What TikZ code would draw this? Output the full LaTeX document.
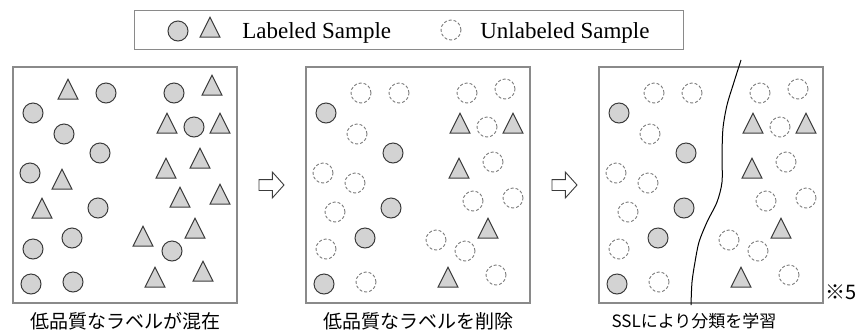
\documentclass[tikz,border=0pt]{standalone}
\usepackage{fontspec}
\setmainfont{Liberation Serif}
\newfontfamily\jpfont{Noto Sans CJK JP}
\usepackage{tikz}
\usetikzlibrary{positioning,shapes.geometric,shapes.arrows}

\definecolor{samplefill}{HTML}{D3D3D3}
\definecolor{sampleline}{HTML}{3C3C3C}
\definecolor{dashline}{HTML}{7A7A7A}
\definecolor{boxline}{HTML}{8A8A8A}

% sample positions inside a panel (from its top left corner)
\newcommand\keptcircles{20/46, 87/86, 85/141, 59/171, 18/217}
\newcommand\droppedcircles{93/26, 161/26, 51/67, 181/60, 17/106, 20/182, 159/184, 60/215}
\newcommand\kepttris{154/60, 207/60, 153/105, 182/165, 142/214}
\newcommand\droppedtris{55/26, 199/22, 187/95, 49/116, 29/145, 167/134, 207/131, 130/173, 190/208}

\begin{document}
\begin{tikzpicture}[x=1pt,y=-1pt,node distance=22pt,semithick]
  \tikzstyle{panel}=[draw=boxline,line width=1.1pt,minimum width=224pt,
                     minimum height=236pt,inner sep=0pt,outer sep=0pt]
  \tikzstyle{labcirc}=[circle,draw=sampleline,fill=samplefill,line width=1pt,
                       minimum size=20pt,inner sep=0pt]
  \tikzstyle{labtri}=[isosceles triangle,isosceles triangle stretches,
                      shape border rotate=90,draw=sampleline,fill=samplefill,
                      line width=1pt,minimum width=20pt,minimum height=20pt,
                      inner sep=0pt]
  \tikzstyle{unlab}=[circle,draw=dashline,dash pattern=on 3pt off 2pt,
                     line width=0.9pt,minimum size=20pt,inner sep=0pt]
  \tikzstyle{stage}=[single arrow,draw=sampleline,fill=white,line width=0.9pt,
                     minimum height=25pt,inner sep=5pt,outer sep=0pt,
                     single arrow head extend=7.5pt,single arrow tip angle=96]
  \tikzstyle{keytext}=[font=\fontsize{23}{23}\selectfont,inner sep=0pt]
  \tikzstyle{caption}=[font=\jpfont\fontsize{19}{19}\selectfont,inner sep=0pt]

  \useasboundingbox (0,0) rectangle (856,333);

  % legend
  \node[draw=boxline,line width=1pt,minimum width=549pt,minimum height=39pt,
        inner sep=0pt] (legend) at (408.5,29.5) {};
  \node[labcirc] (key-c) at (178,31) {};
  \node[labtri,right=14pt of key-c] (key-t) {};
  \node[keytext,anchor=base west] (key-lab) at (242,38.5) {Labeled Sample};
  \node[unlab] (key-u) at (451,30) {};
  \node[keytext,anchor=base west] (key-unlab) at (480,38.5) {Unlabeled Sample};

  % the three stages
  \node[panel]               (p1) at (125,185) {};
  \node[stage,right=of p1]   (arr1) {};
  \node[panel,right=of arr1] (p2) {};
  \node[stage,right=of p2]   (arr2) {};
  \node[panel,right=of arr2] (p3) {};

  % all samples labelled
  \begin{scope}[shift={(p1.north west)}]
    \foreach \x/\y [count=\i] in \keptcircles
      \node[labcirc] (a-kc\i) at (\x,\y) {};
    \foreach \x/\y [count=\i] in \droppedcircles
      \node[labcirc] (a-dc\i) at (\x,\y) {};
    \foreach \x/\y [count=\i] in \kepttris
      \node[labtri] (a-kt\i) at (\x,\y) {};
    \foreach \x/\y [count=\i] in \droppedtris
      \node[labtri] (a-dt\i) at (\x,\y) {};
  \end{scope}

  % low quality labels removed (same in both later panels)
  \foreach \p in {p2,p3} {
    \begin{scope}[shift={(\p.north west)}]
      \foreach \x/\y [count=\i] in \keptcircles
        \node[labcirc] (\p-kc\i) at (\x,\y) {};
      \foreach \x/\y [count=\i] in \kepttris
        \node[labtri] (\p-kt\i) at (\x,\y) {};
      \foreach \x/\y [count=\i] in \droppedcircles
        \node[unlab] (\p-uc\i) at (\x,\y) {};
      \foreach \x/\y [count=\i] in \droppedtris
        \node[unlab] (\p-ut\i) at (\x,\y) {};
    \end{scope}
  }

  % decision boundary
  \begin{scope}[shift={(p3.north west)}]
    \draw[black,line width=1pt] plot[smooth] coordinates {(142,-7) (135,15)
      (128,38) (124,61) (123,88) (123,115) (118,135) (108,155) (100,175)
      (96,195) (93,215) (92,238)};
  \end{scope}

  % captions
  \node[caption,below=9pt of p1] (cap1) {低品質なラベルが混在};
  \node[caption,below=9pt of p2] (cap2) {低品質なラベルを削除};
  \node[caption,font=\jpfont\fontsize{17}{17}\selectfont,
        below=10pt of p3,xshift=-17pt] (cap3) {SSLにより分類を学習};
  \node[caption,font=\jpfont\fontsize{20}{20}\selectfont,
        right=2pt of p3.south east,yshift=11pt] (note) {※5};
\end{tikzpicture}
\end{document}
